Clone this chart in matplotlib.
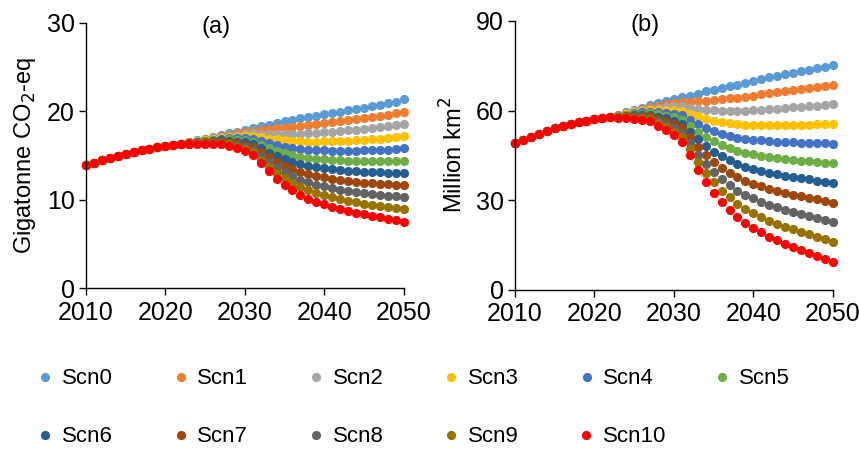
import matplotlib
matplotlib.use("Agg")
import matplotlib.pyplot as plt
from matplotlib.lines import Line2D

plt.rcParams['font.family'] = ['Liberation Sans', 'DejaVu Sans']

years = list(range(2010, 2051))
scenarios = ['Scn0', 'Scn1', 'Scn2', 'Scn3', 'Scn4', 'Scn5',
             'Scn6', 'Scn7', 'Scn8', 'Scn9', 'Scn10']
colors = ['#5B9BD5', '#ED7D31', '#A5A5A5', '#FFC000', '#4472C4', '#70AD47',
          '#255E91', '#9E480E', '#636363', '#997300', '#FF0000']

# (a) emissions, Gigatonne CO2-eq -- common path 2010-2022, then 2023-2050 per scenario
em_head = [13.94, 14.16, 14.46, 14.69, 14.95, 15.22, 15.40, 15.59, 15.78, 15.97, 16.12, 16.20, 16.27]
em_scn0 = [16.50, 16.70, 16.90, 17.10, 17.30, 17.50, 17.70, 17.90, 18.10, 18.30, 18.50, 18.70, 18.87, 19.05,
           19.20, 19.35, 19.50, 19.66, 19.80, 19.95, 20.10, 20.25, 20.40, 20.60, 20.75, 20.90, 21.10, 21.36]
em_scn1 = [16.48, 16.67, 16.85, 17.03, 17.20, 17.36, 17.51, 17.66, 17.79, 17.88, 17.97, 18.07, 18.15, 18.25,
           18.33, 18.43, 18.53, 18.64, 18.74, 18.85, 18.96, 19.08, 19.19, 19.35, 19.47, 19.59, 19.76, 19.97]
em_scn2 = [16.46, 16.63, 16.79, 16.95, 17.10, 17.22, 17.32, 17.42, 17.49, 17.46, 17.44, 17.44, 17.43, 17.45,
           17.46, 17.51, 17.55, 17.63, 17.68, 17.75, 17.83, 17.90, 17.98, 18.11, 18.20, 18.29, 18.42, 18.59]
em_scn3 = [16.44, 16.60, 16.74, 16.88, 17.00, 17.09, 17.14, 17.19, 17.18, 17.05, 16.92, 16.81, 16.71, 16.65,
           16.59, 16.58, 16.58, 16.61, 16.62, 16.64, 16.69, 16.73, 16.78, 16.86, 16.92, 16.98, 17.07, 17.20]
em_scn4 = [16.42, 16.56, 16.68, 16.80, 16.90, 16.95, 16.95, 16.95, 16.87, 16.63, 16.39, 16.18, 15.99, 15.85,
           15.72, 15.66, 15.60, 15.59, 15.56, 15.54, 15.56, 15.55, 15.57, 15.62, 15.64, 15.67, 15.73, 15.82]
em_scn5 = [16.41, 16.53, 16.63, 16.73, 16.80, 16.81, 16.76, 16.71, 16.57, 16.21, 15.86, 15.55, 15.28, 15.05,
           14.86, 14.74, 14.63, 14.58, 14.50, 14.44, 14.42, 14.38, 14.36, 14.37, 14.37, 14.37, 14.39, 14.43]
em_scn6 = [16.39, 16.49, 16.57, 16.65, 16.71, 16.67, 16.57, 16.47, 16.26, 15.79, 15.33, 14.91, 14.56, 14.24,
           13.99, 13.82, 13.66, 13.56, 13.43, 13.34, 13.28, 13.21, 13.15, 13.12, 13.09, 13.06, 13.05, 13.04]
em_scn7 = [16.37, 16.46, 16.52, 16.58, 16.61, 16.53, 16.38, 16.23, 15.95, 15.37, 14.80, 14.28, 13.84, 13.44,
           13.12, 12.90, 12.68, 12.54, 12.37, 12.24, 12.15, 12.03, 11.94, 11.88, 11.81, 11.75, 11.71, 11.66]
em_scn8 = [16.35, 16.42, 16.46, 16.50, 16.51, 16.40, 16.20, 16.00, 15.64, 14.96, 14.28, 13.65, 13.12, 12.64,
           12.25, 11.97, 11.71, 11.52, 11.31, 11.13, 11.01, 10.86, 10.74, 10.63, 10.53, 10.44, 10.36, 10.27]
em_scn9 = [16.33, 16.39, 16.41, 16.43, 16.41, 16.26, 16.01, 15.76, 15.34, 14.54, 13.75, 13.02, 12.40, 11.84,
           11.38, 11.05, 10.73, 10.51, 10.25, 10.03, 9.88, 9.68, 9.53, 9.39, 9.26, 9.14, 9.02, 8.89]
em_scn10 = [16.31, 16.35, 16.35, 16.35, 16.31, 16.12, 15.82, 15.52, 15.03, 14.12, 13.22, 12.39, 11.68, 11.04,
            10.51, 10.13, 9.76, 9.49, 9.19, 8.93, 8.74, 8.51, 8.32, 8.14, 7.98, 7.83, 7.68, 7.50]

# (b) area, Million km2
ar_head = [49.2, 50.1, 51.1, 52.1, 53.2, 54.2, 54.9, 55.6, 56.1, 56.6, 57.1, 57.4, 57.7]
ar_scn0 = [58.5, 59.4, 60.3, 61.0, 61.7, 62.4, 63.1, 63.8, 64.4, 65.0, 65.7, 66.4, 67.0, 67.6,
           68.2, 68.7, 69.3, 69.9, 70.5, 71.1, 71.6, 72.2, 72.7, 73.2, 73.7, 74.2, 74.7, 75.2]
ar_scn1 = [58.41, 59.21, 60.0, 60.6, 61.18, 61.66, 62.15, 62.6, 62.92, 63.0, 63.15, 63.36, 63.55, 63.78,
           64.06, 64.26, 64.61, 64.99, 65.38, 65.77, 66.11, 66.53, 66.87, 67.22, 67.58, 67.93, 68.28, 68.63]
ar_scn2 = [58.32, 59.02, 59.7, 60.2, 60.66, 60.92, 61.2, 61.4, 61.44, 61.0, 60.6, 60.32, 60.1, 59.96,
           59.92, 59.82, 59.92, 60.08, 60.26, 60.44, 60.62, 60.86, 61.04, 61.24, 61.46, 61.66, 61.86, 62.06]
ar_scn3 = [58.23, 58.83, 59.4, 59.8, 60.14, 60.18, 60.25, 60.2, 59.96, 59.0, 58.05, 57.28, 56.65, 56.14,
           55.78, 55.38, 55.23, 55.17, 55.14, 55.11, 55.13, 55.19, 55.21, 55.26, 55.34, 55.39, 55.44, 55.49]
ar_scn4 = [58.14, 58.64, 59.1, 59.4, 59.62, 59.44, 59.3, 59.0, 58.48, 57.0, 55.5, 54.24, 53.2, 52.32,
           51.64, 50.94, 50.54, 50.26, 50.02, 49.78, 49.64, 49.52, 49.38, 49.28, 49.22, 49.12, 49.02, 48.92]
ar_scn5 = [58.05, 58.45, 58.8, 59.0, 59.1, 58.7, 58.35, 57.8, 57.0, 55.0, 52.95, 51.2, 49.75, 48.5,
           47.5, 46.5, 45.85, 45.35, 44.9, 44.45, 44.15, 43.85, 43.55, 43.3, 43.1, 42.85, 42.6, 42.35]
ar_scn6 = [57.96, 58.26, 58.5, 58.6, 58.58, 57.96, 57.4, 56.6, 55.52, 53.0, 50.4, 48.16, 46.3, 44.68,
           43.36, 42.06, 41.16, 40.44, 39.78, 39.12, 38.66, 38.18, 37.72, 37.32, 36.98, 36.58, 36.18, 35.78]
ar_scn7 = [57.87, 58.07, 58.2, 58.2, 58.06, 57.22, 56.45, 55.4, 54.04, 51.0, 47.85, 45.12, 42.85, 40.86,
           39.22, 37.62, 36.47, 35.53, 34.66, 33.79, 33.17, 32.51, 31.89, 31.34, 30.86, 30.31, 29.76, 29.21]
ar_scn8 = [57.78, 57.88, 57.9, 57.8, 57.54, 56.48, 55.5, 54.2, 52.56, 49.0, 45.3, 42.08, 39.4, 37.04,
           35.08, 33.18, 31.78, 30.62, 29.54, 28.46, 27.68, 26.84, 26.06, 25.36, 24.74, 24.04, 23.34, 22.64]
ar_scn9 = [57.69, 57.69, 57.6, 57.4, 57.02, 55.74, 54.55, 53.0, 51.08, 47.0, 42.75, 39.04, 35.95, 33.22,
           30.94, 28.74, 27.09, 25.71, 24.42, 23.13, 22.19, 21.17, 20.23, 19.38, 18.62, 17.77, 16.92, 16.07]
ar_scn10 = [57.6, 57.5, 57.3, 57.0, 56.5, 55.0, 53.6, 51.8, 49.6, 45.0, 40.2, 36.0, 32.5, 29.4,
            26.8, 24.3, 22.4, 20.8, 19.3, 17.8, 16.7, 15.5, 14.4, 13.4, 12.5, 11.5, 10.5, 9.5]

em_tails = [em_scn0, em_scn1, em_scn2, em_scn3, em_scn4, em_scn5,
            em_scn6, em_scn7, em_scn8, em_scn9, em_scn10]
ar_tails = [ar_scn0, ar_scn1, ar_scn2, ar_scn3, ar_scn4, ar_scn5,
            ar_scn6, ar_scn7, ar_scn8, ar_scn9, ar_scn10]

fig = plt.figure(figsize=(8.59, 4.5), dpi=100)
ax_a = fig.add_axes([0.100, 0.360, 0.370, 0.589])
ax_b = fig.add_axes([0.5995, 0.3556, 0.370, 0.598])

FS = 18


def draw_panel(ax, head, tails, ymax, yticks, ylabel, tag):
    for tail, c in zip(tails, colors):
        ax.plot(years, head + tail, color='#A6A6A6', lw=0.5, zorder=1)
        ax.plot(years, head + tail, ls='none', marker='o', ms=6.6,
                mfc=c, mec='none', zorder=2)
    ax.set_xlim(2010, 2050)
    ax.set_ylim(0, ymax)
    ax.set_xticks([2010, 2020, 2030, 2040, 2050])
    ax.set_yticks(yticks)
    for s in ['top', 'right']:
        ax.spines[s].set_visible(False)
    for s in ['left', 'bottom']:
        ax.spines[s].set_linewidth(1.0)
    ax.tick_params(direction='out', length=5, width=1.0, labelsize=FS, pad=3)
    ax.tick_params(axis='x', pad=4)
    ax.set_ylabel(ylabel, fontsize=FS - 1, labelpad=6)
    ax.text(0.41, 0.985, tag, transform=ax.transAxes, ha='center', va='center',
            fontsize=FS - 1)
    for p in ax.lines:
        p.set_clip_on(False)


draw_panel(ax_a, em_head, em_tails, 30, [0, 10, 20, 30],
           'Gigatonne CO$_2$-eq', '(a)')
draw_panel(ax_b, ar_head, ar_tails, 90, [0, 30, 60, 90],
           'Million km$^2$', '(b)')

handles = [Line2D([], [], ls='none', marker='o', ms=6.6, mfc=c, mec='none')
           for c in colors]
for rows, ypos in [(range(0, 6), 0.158), (range(6, 11), 0.029)]:
    fig.legend([handles[i] for i in rows], [scenarios[i] for i in rows],
               loc='center left', bbox_to_anchor=(0.032, ypos), ncol=6,
               frameon=False, fontsize=16, handlelength=0.6,
               handletextpad=0.45, columnspacing=2.75, borderpad=0)

fig.savefig('out.png', dpi=100)
